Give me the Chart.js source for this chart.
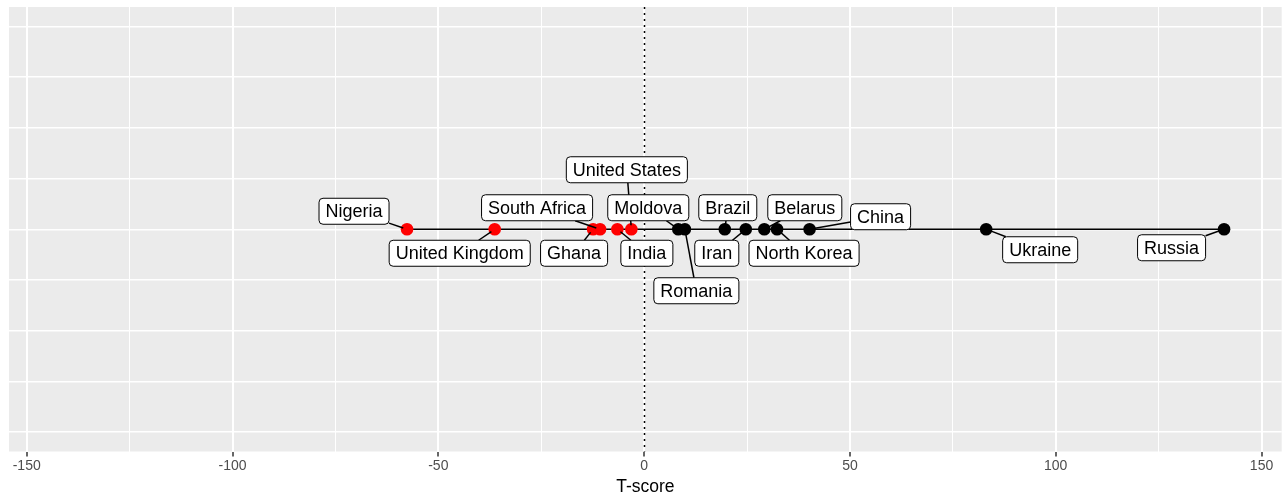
<!DOCTYPE html>
<html><head><meta charset="utf-8">
<script src="https://cdn.jsdelivr.net/npm/chart.js@4.4.1/dist/chart.umd.min.js"></script>
<style>html,body{margin:0;padding:0;background:#fff}canvas{display:block}</style>
</head><body>
<canvas id="c" width="1288" height="492"></canvas>
<script>
// ---- data ----
const countries = ['Nigeria','United Kingdom','Ghana','South Africa','India','United States','Moldova','Romania','Brazil','Iran','Belarus','North Korea','China','Ukraine','Russia'];
const tScores  = [-57.6, -36.3, -12.4, -10.7, -6.5, -3.1, 8.3, 9.9, 19.6, 24.7, 29.2, 32.3, 40.2, 83.1, 140.9];
const xTickValues = [-150, -100, -50, 0, 50, 100, 150];

// ---- label placement (pixel offsets of label centre from its point) ----
const labelOffsets = [
  [-53, -18], [-35, 24], [-19, 24], [-63, -21.5], [29.5, 24], [-4.5, -59.5],
  [-30, -21.5], [11.5, 61.5], [3, -21.5], [-29, 24], [40.5, -21.5], [27, 24],
  [71, -12.5], [54, 20.5], [-52.5, 18.5]
];

const FONT = '"Liberation Sans", Arial, sans-serif';
const pointColors = tScores.map(v => v < 0 ? '#FF0000' : '#000000');
const pts = tScores.map(v => ({x: v, y: 0}));
const linePts = pts.slice().sort((a, b) => a.x - b.x);

const panelBg = {
  id: 'panelBg',
  beforeDraw(chart) {
    const {ctx, chartArea: a} = chart;
    ctx.save();
    ctx.fillStyle = '#EBEBEB';
    ctx.fillRect(a.left, a.top, a.right - a.left, a.bottom - a.top);
    ctx.restore();
  },
  beforeDatasetsDraw(chart) {
    const {ctx, chartArea: a, scales} = chart;
    const x0 = Math.round(scales.x.getPixelForValue(0)) + 0.5;
    ctx.save();
    ctx.strokeStyle = '#000';
    ctx.lineWidth = 1.5;
    ctx.setLineDash([2, 4]);
    ctx.beginPath();
    ctx.moveTo(x0, a.top);
    ctx.lineTo(x0, a.bottom);
    ctx.stroke();
    ctx.restore();
  }
};

const repelLabels = {
  id: 'repelLabels',
  afterDatasetsDraw(chart) {
    const {ctx, scales} = chart;
    ctx.save();
    ctx.font = '18px ' + FONT;
    const boxes = countries.map((name, i) => {
      const px = scales.x.getPixelForValue(tScores[i]);
      const py = scales.y.getPixelForValue(0);
      const cx = px + labelOffsets[i][0];
      const cy = py + labelOffsets[i][1];
      const w = ctx.measureText(name).width + 13;
      const h = 26;
      return {name, px, py, cx, cy, w, h};
    });
    // segments
    ctx.strokeStyle = '#000';
    ctx.lineWidth = 1.5;
    boxes.forEach(b => {
      const dx = b.px - b.cx, dy = b.py - b.cy;
      const len = Math.hypot(dx, dy);
      const t = Math.min(dx !== 0 ? (b.w / 2) / Math.abs(dx) : Infinity,
                         dy !== 0 ? (b.h / 2) / Math.abs(dy) : Infinity);
      const sx = b.cx + dx * t, sy = b.cy + dy * t;
      const ex = b.px - dx / len * 4, ey = b.py - dy / len * 4;
      ctx.beginPath();
      ctx.moveTo(sx, sy);
      ctx.lineTo(ex, ey);
      ctx.stroke();
    });
    // boxes
    boxes.forEach(b => {
      const x = b.cx - b.w / 2, y = b.cy - b.h / 2;
      ctx.beginPath();
      ctx.roundRect(x, y, b.w, b.h, 4);
      ctx.fillStyle = '#FFFFFF';
      ctx.fill();
      ctx.lineWidth = 1;
      ctx.strokeStyle = '#000';
      ctx.stroke();
      ctx.fillStyle = '#000';
      ctx.textAlign = 'center';
      ctx.textBaseline = 'middle';
      ctx.fillText(b.name, b.cx, b.cy + 1);
    });
    ctx.restore();
  }
};

new Chart(document.getElementById('c'), {
  type: 'scatter',
  data: {
    datasets: [
      {
        data: pts,
        pointRadius: 6.3,
        pointHoverRadius: 6.3,
        pointBackgroundColor: pointColors,
        pointBorderWidth: 0,
        order: 1
      },
      {
        data: linePts,
        showLine: true,
        borderColor: '#000',
        borderWidth: 1.5,
        pointRadius: 0,
        order: 2
      }
    ]
  },
  options: {
    responsive: false,
    animation: false,
    layout: {padding: {left: 9, right: 3, top: 7, bottom: -4}},
    plugins: {legend: {display: false}, tooltip: {enabled: false}},
    scales: {
      x: {
        type: 'linear',
        min: -154.3,
        max: 154.9,
        border: {display: false},
        grid: {
          color: '#FFFFFF',
          lineWidth: c => (c.tick && Math.abs(c.tick.value % 50) === 0) ? 2 : 1,
          tickColor: c => (c.tick && Math.abs(c.tick.value % 50) === 0) ? '#333333' : 'rgba(0,0,0,0)',
          tickLength: 5,
          tickWidth: 1.5
        },
        ticks: {
          stepSize: 25,
          includeBounds: false,
          autoSkip: false,
          maxRotation: 0,
          padding: 3,
          color: '#4D4D4D',
          font: {family: FONT, size: 14, lineHeight: 1},
          callback: v => xTickValues.includes(v) ? String(v) : ''
        },
        title: {
          display: true,
          text: 'T-score',
          color: '#000',
          font: {family: FONT, size: 17.5, lineHeight: 1},
          padding: {top: 2, bottom: 0}
        }
      },
      y: {
        min: -4.38,
        max: 4.38,
        border: {display: false},
        grid: {color: '#FFFFFF', lineWidth: 1.5, drawTicks: false, tickLength: 0},
        ticks: {display: false, stepSize: 1, includeBounds: false}
      }
    }
  },
  plugins: [panelBg, repelLabels]
});
</script>
</body></html>
